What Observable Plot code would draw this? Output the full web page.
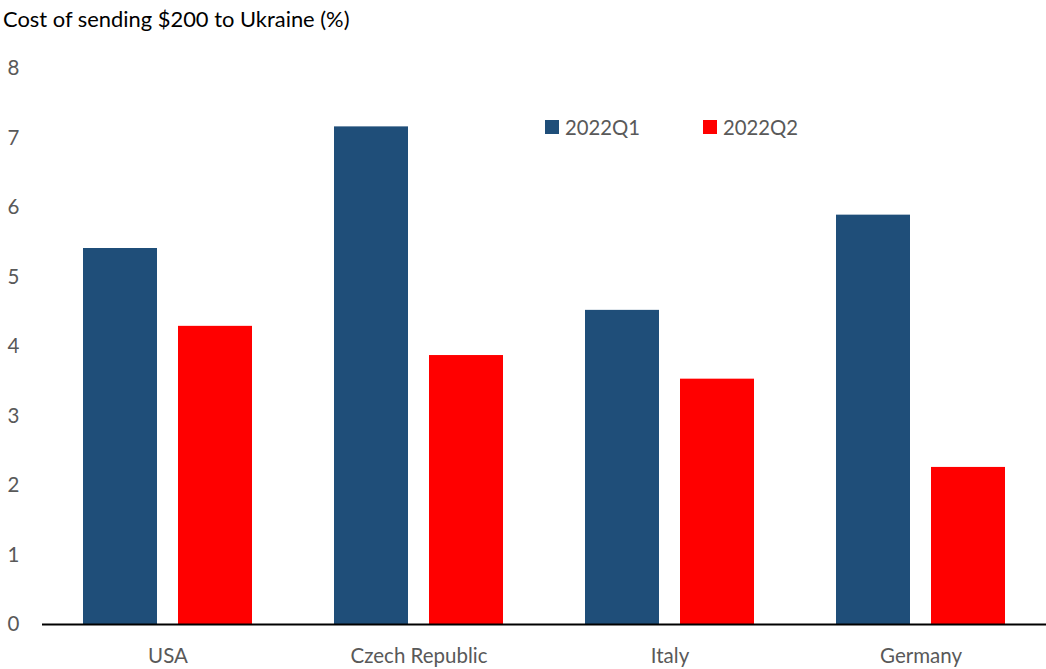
<!DOCTYPE html>
<html>
<head>
<meta charset="utf-8">
<script src="https://cdn.jsdelivr.net/npm/d3@7"></script>
<script src="https://cdn.jsdelivr.net/npm/@observablehq/plot@0.6"></script>
<style>
  body { margin: 0; background: #fff; font-family: Lato, "Open Sans", sans-serif; }
  #wrap { position: relative; width: 1046px; height: 669px; }
  #title { height: 40px; line-height: 38px; font-size: 21.9px; color: #000; padding-left: 3px; white-space: nowrap; }
  #legend { position: absolute; top: 115px; left: 545px; font-size: 20.3px; color: #595959; display: flex; }
  .item { display: flex; align-items: center; margin-right: 0; }
  .sw { width: 14px; height: 14px; margin-right: 6px; }
</style>
</head>
<body>
<div id="wrap">
  <div id="title">Cost of sending $200 to Ukraine (%)</div>
  <div id="chart"></div>
  <div id="legend"></div>
</div>
<script>
const countries = ["USA", "Czech Republic", "Italy", "Germany"];
const seriesNames = ["2022Q1", "2022Q2"];
const q1Values = [5.41, 7.16, 4.52, 5.89];
const q2Values = [4.29, 3.87, 3.53, 2.26];
const yTicks = [0, 1, 2, 3, 4, 5, 6, 7, 8];
const colors = ["#1f4e79", "#ff0000"];

const data = [];
countries.forEach((c, i) => {
  data.push({country: c, series: seriesNames[0], value: q1Values[i]});
  data.push({country: c, series: seriesNames[1], value: q2Values[i]});
});

const chart = Plot.plot({
  width: 1046,
  height: 629,
  marginLeft: 41,
  marginRight: 0,
  marginTop: 28,
  marginBottom: 45,
  style: {fontFamily: "Lato, 'Open Sans', sans-serif", fontSize: "20.5px", color: "#595959", background: "#fff"},
  fx: {domain: countries, padding: 0, label: null, tickSize: 0, tickPadding: 24, axis: "bottom"},
  x: {domain: seriesNames, paddingInner: 0.219, paddingOuter: 0.417, axis: null},
  y: {domain: [0, 8], ticks: yTicks, label: null, tickSize: 0, tickPadding: 23},
  color: {domain: seriesNames, range: colors},
  marks: [
    Plot.barY(data, {fx: "country", x: "series", y: "value", fill: "series"}),
    Plot.ruleY([0], {stroke: "#000", strokeWidth: 2})
  ]
});
chart.querySelectorAll("[aria-label='y-axis tick label'] text, [aria-label='fx-axis tick label'] text").forEach(t => t.setAttribute("fill", "#595959"));
document.getElementById("chart").appendChild(chart);

const legend = document.getElementById("legend");
seriesNames.forEach((s, i) => {
  const it = document.createElement("div");
  it.className = "item";
  it.style.width = i === 0 ? "158px" : "auto";
  it.innerHTML = `<div class="sw" style="background:${colors[i]}"></div><span>${s}</span>`;
  legend.appendChild(it);
});
</script>
</body>
</html>
